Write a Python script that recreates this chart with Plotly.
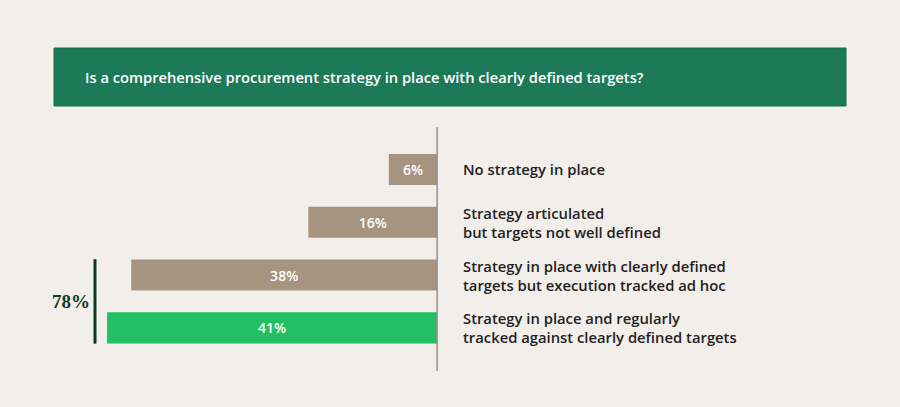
import plotly.graph_objects as go

# data
answers = [
    "No strategy in place",
    "Strategy articulated<br>but targets not well defined",
    "Strategy in place with clearly defined<br>targets but execution tracked ad hoc",
    "Strategy in place and regularly<br>tracked against clearly defined targets",
]
shares = [6, 16, 38, 41]
bar_colors = ["#a69380", "#a69380", "#a69380", "#22c063"]
combined_label = "78%"
question = "Is a comprehensive procurement strategy in place with clearly defined targets?"

BG = "#f2efeb"
DARK_GREEN = "#0b3a1c"
pos = list(range(len(answers)))

fig = go.Figure()
fig.add_trace(go.Bar(
    x=shares,
    y=pos,
    orientation="h",
    width=0.59,
    marker=dict(color=bar_colors, line=dict(width=0)),
    text=[f"{v}%" for v in shares],
    textposition="inside",
    insidetextanchor="middle",
    constraintext="none",
    textfont=dict(color="white", size=14, family="Open Sans", weight=600),
    hoverinfo="skip",
))

# answer labels to the right of the axis
for i, lab in enumerate(answers):
    fig.add_annotation(
        x=461 / 900, xref="paper", y=i, yref="y",
        text=lab, showarrow=False, xanchor="left", yanchor="middle", align="left",
        font=dict(family="Open Sans", size=14.8, color="#222222", weight=600),
    )

# banner
fig.add_shape(type="rect", xref="paper", yref="paper",
              x0=54 / 900, x1=846 / 900, y0=1 - 106 / 407, y1=1 - 48 / 407,
              fillcolor="#1d7a58", line=dict(color="#13704c", width=1), layer="below")
fig.add_annotation(x=83 / 900, xref="paper", y=1 - 77 / 407, yref="paper",
                   text=question, showarrow=False, xanchor="left", yanchor="middle",
                   font=dict(family="Open Sans", size=14.7, color="white", weight=600))

# vertical baseline
fig.add_shape(type="line", xref="x", yref="paper", x0=0, x1=0,
              y0=1 - 371 / 407, y1=1 - 127 / 407,
              line=dict(color="#9a8f85", width=1.5))

# bracket for the top-two total
fig.add_shape(type="line", xref="paper", yref="y", x0=95 / 900, x1=95 / 900,
              y0=1.7, y1=3.3, line=dict(color=DARK_GREEN, width=3))
fig.add_annotation(x=71 / 900, xref="paper", y=2.5, yref="y",
                   text=combined_label, showarrow=False, xanchor="center", yanchor="middle",
                   font=dict(family="Liberation Serif", size=19, color=DARK_GREEN, weight="bold"))

fig.update_layout(
    width=900, height=407,
    margin=dict(l=0, r=0, t=0, b=0),
    paper_bgcolor=BG, plot_bgcolor=BG,
    showlegend=False,
    xaxis=dict(range=[54.3, -57.5], visible=False, fixedrange=True),
    yaxis=dict(range=[4.5, -3.21], visible=False, fixedrange=True),
)

# drop the default page margin so the figure sits at the window origin
fig.write_html("out.html", config={"displayModeBar": False},
               post_script="document.body.style.margin='0';")
